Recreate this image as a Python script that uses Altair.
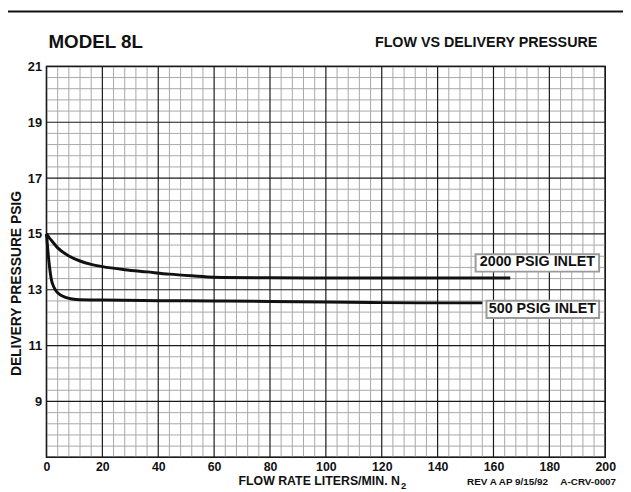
import altair as alt
import pandas as pd
import numpy as np

# ---- data ----
flow_2000 = [0, 1, 2, 4, 8, 12, 16, 20, 28, 36, 44, 52, 60, 80, 100, 120, 140, 166]
press_2000 = [15.0, 14.86, 14.74, 14.5, 14.21, 14.03, 13.91, 13.83, 13.72, 13.64,
              13.56, 13.5, 13.45, 13.43, 13.42, 13.42, 13.42, 13.42]
flow_500 = [0, 0.4, 1.0, 1.6, 2.7, 4.5, 6.8, 9.2, 12, 20, 40, 60, 80, 100, 120, 140, 156]
press_500 = [15.0, 14.5, 13.9, 13.44, 13.08, 12.85, 12.73, 12.67, 12.64, 12.63,
             12.61, 12.6, 12.58, 12.56, 12.54, 12.53, 12.53]

series_labels = ["2000 PSIG INLET", "500 PSIG INLET"]
label_x = [175.7, 177.5]
label_y = [13.98, 12.3]
box_x1 = [153.6, 157.5]
box_x2 = [197.8, 197.8]
box_y1 = [14.27, 12.61]
box_y2 = [13.65, 11.99]

x_ticks = list(range(0, 201, 20))
y_ticks = [9, 11, 13, 15, 17, 19, 21]

FONT = "Liberation Sans"

curves = pd.DataFrame({
    "x": flow_2000 + flow_500,
    "y": press_2000 + press_500,
    "s": ["2000"] * len(flow_2000) + ["500"] * len(flow_500),
})
ann = pd.DataFrame({"t": series_labels, "x": label_x, "y": label_y,
                    "x1": box_x1, "x2": box_x2, "y1": box_y1, "y2": box_y2})

kx = np.arange(0, 51)
minor_x = pd.DataFrame({"x": [k * 4 for k in kx if k % 5 != 0]})
major_x = pd.DataFrame({"x": [k * 4 for k in kx if k % 5 == 0]})
ky = np.arange(0, 36)
minor_y = pd.DataFrame({"y": [7 + k * 0.4 for k in ky if k % 5 != 0]})
major_y = pd.DataFrame({"y": [7 + k * 0.4 for k in ky if k % 5 == 0]})

xs = alt.Scale(domain=[0, 200], nice=False, zero=False)
ys = alt.Scale(domain=[7, 21], nice=False, zero=False)
xaxis = alt.Axis(values=x_ticks, grid=False, domain=False, ticks=False, title=None,
                 labelFlush=False, labelPadding=3, labelFontSize=12.5)
yaxis = alt.Axis(values=y_ticks, grid=False, domain=False, ticks=False, title=None,
                 labelFlush=False, labelPadding=5)


def X(f):
    return alt.X(f"{f}:Q", scale=xs, axis=xaxis)


def Y(f):
    return alt.Y(f"{f}:Q", scale=ys, axis=yaxis)


l_minor_x = alt.Chart(minor_x).mark_rule(color="#a8a8a8", strokeWidth=1).encode(x=X("x"))
l_minor_y = alt.Chart(minor_y).mark_rule(color="#a8a8a8", strokeWidth=1).encode(y=Y("y"))
l_major_x = alt.Chart(major_x).mark_rule(color="#1a1a1a", strokeWidth=1.2).encode(x=X("x"))
l_major_y = alt.Chart(major_y).mark_rule(color="#1a1a1a", strokeWidth=1.2).encode(y=Y("y"))

l_curves = alt.Chart(curves).mark_line(color="#111111", strokeWidth=3,
                                       interpolate="monotone").encode(
    x=X("x"), y=Y("y"), detail="s:N")

l_boxes = alt.Chart(ann).mark_rect(fill="white", stroke="#9a9a9a", strokeWidth=2).encode(
    x=X("x1"), x2="x2:Q", y=Y("y1"), y2="y2:Q")
l_labels = alt.Chart(ann).mark_text(font=FONT, fontWeight="bold", fontSize=14.5,
                                    color="#111111", baseline="middle", align="center").encode(
    x=X("x"), y=Y("y"), text="t:N")

one = pd.DataFrame({"a": [0]})


def txt(text, px, py, size, align="left", angle=0, baseline="alphabetic"):
    kw = dict(text=text, font=FONT, fontWeight="bold", fontSize=size, color="#111111",
              align=align, baseline=baseline)
    if angle:
        kw["angle"] = angle
    return alt.Chart(one).mark_text(**kw).encode(x=alt.value(px), y=alt.value(py))


t_model = txt("MODEL 8L", 2, -19, 19)
t_title = txt("FLOW VS DELIVERY PRESSURE", 558, -20, 14.5, align="right")
t_ytitle = txt("DELIVERY PRESSURE PSIG", -30, 220, 14, align="center", angle=270,
               baseline="middle")
t_xtitle = txt("FLOW RATE LITERS/MIN. N", 358, 424.5, 12.5, align="right")
t_xsub = txt("2", 359, 428, 9.5)
t_rev = txt("REV A AP 9/15/92", 467, 424.5, 10, align="center")
t_code = txt("A-CRV-0007", 577, 424.5, 10, align="right")

frame_left = alt.Chart(one).mark_rule(color="#111111", strokeWidth=2).encode(
    x=alt.value(-40), y=alt.value(-55.5), y2=alt.value(440))
frame_top = alt.Chart(one).mark_rule(color="#111111", strokeWidth=2).encode(
    x=alt.value(-40), x2=alt.value(600), y=alt.value(-55.5))

chart = alt.layer(
    l_minor_x, l_minor_y, l_major_x, l_major_y, l_curves, l_boxes, l_labels,
    t_model, t_title, t_ytitle, t_xtitle, t_xsub, t_rev, t_code, frame_left, frame_top,
).properties(
    width=566, height=396,
    autosize=alt.AutoSizeParams(type="none"),
    padding={"left": 39, "top": 56, "right": 18, "bottom": 32},
    background="white",
).configure_view(
    stroke="#111111", strokeWidth=1.5
).configure_axis(
    labelFont=FONT, labelFontWeight="bold", labelFontSize=13, labelColor="#111111"
)

chart.save("out.html", embed_options={"renderer": "svg", "actions": False})
